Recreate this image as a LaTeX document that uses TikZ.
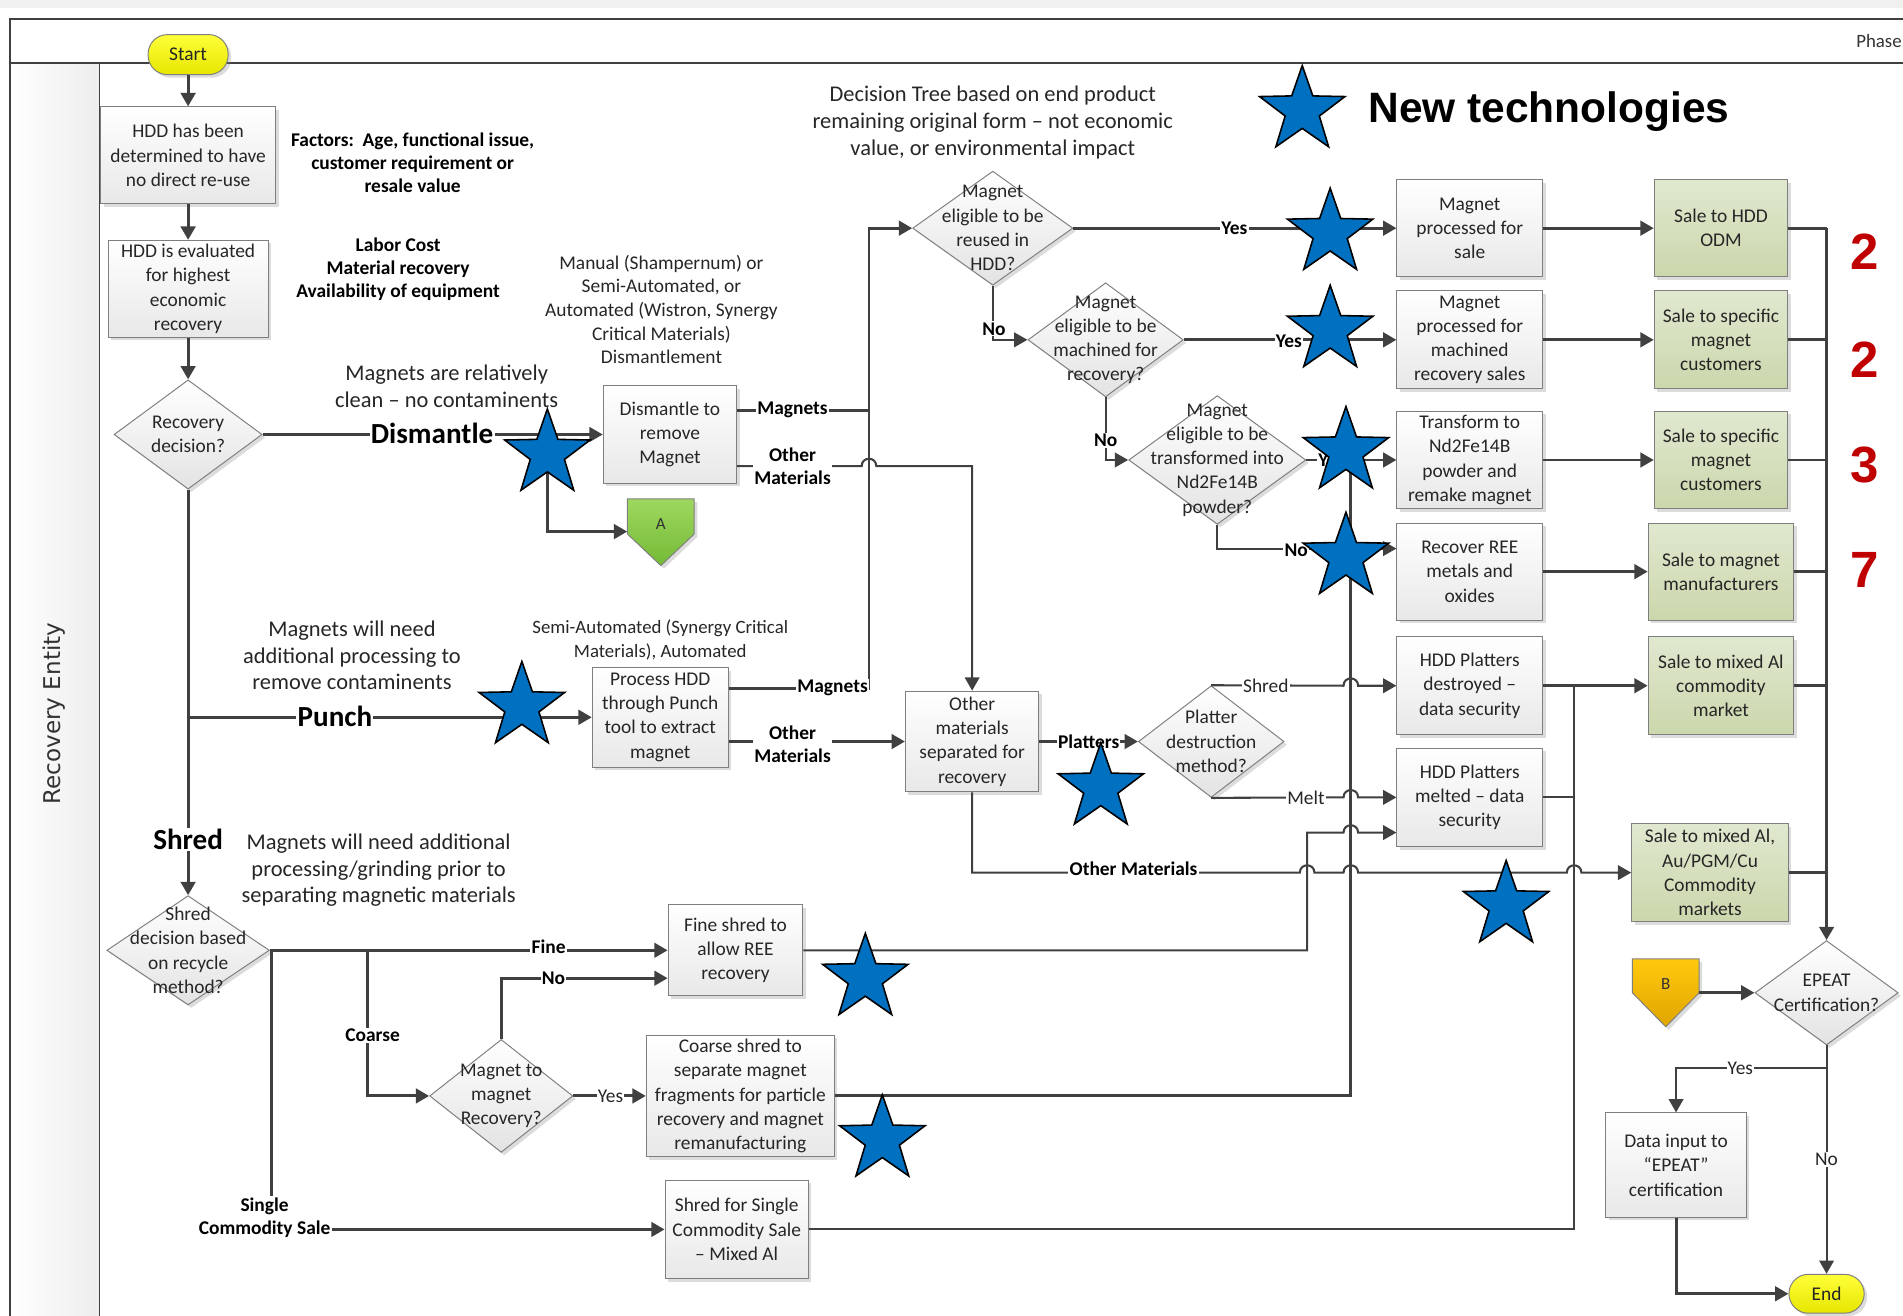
\documentclass[tikz,border=0pt]{standalone}
\usepackage{fontspec}
\setmainfont{Carlito}
\newfontfamily\lanefont{DejaVu Sans}
\newfontfamily\headfont{Liberation Sans}
\usetikzlibrary{arrows.meta,shapes.geometric,shadows,calc}

\definecolor{ink}{HTML}{404040}
\definecolor{edge}{HTML}{7F7F7F}
\definecolor{starblue}{HTML}{0070C0}
\definecolor{numred}{HTML}{C00000}
\definecolor{greentop}{HTML}{E0E8CF}
\definecolor{greenbot}{HTML}{CBD7AC}
\definecolor{yeltop}{HTML}{FFFF3A}
\definecolor{yelbot}{HTML}{E6E600}
\definecolor{atop}{HTML}{9ED85F}
\definecolor{abot}{HTML}{74BA35}
\definecolor{btop}{HTML}{FFC90E}
\definecolor{bbot}{HTML}{E0A500}

\newcommand\bodyfont{\fontsize{16}{20}\selectfont}
\newcommand\notefont{\fontsize{18.5}{22}\selectfont}
\newcommand\labfont{\bfseries\fontsize{16}{19}\selectfont}
\newcommand\plainlab{\fontsize{16}{19}\selectfont}
\newcommand\bigfont{\bfseries\fontsize{24}{28}\selectfont}
% line hop over a vertical line at x=#1 on a horizontal run at y=#2
\newcommand\hopat[2]{-- ({#1-6},#2) .. controls ({#1-6},{#2-8}) and ({#1+6},{#2-8}) .. ({#1+6},#2)}

\begin{document}
\begin{tikzpicture}[x=1pt,y=-1pt,
  shadowed/.style={drop shadow={shadow xshift=2.5pt,shadow yshift=-2.5pt,opacity=.28,fill=black!50}},
  box/.style={rectangle,draw=edge,line width=.8pt,top color=white,bottom color=black!9,
    align=center,inner sep=0pt,font=\bodyfont,text=black!85,shadowed},
  gbox/.style={box,top color=greentop,bottom color=greenbot},
  dec/.style={diamond,draw=edge,line width=.8pt,top color=white,bottom color=black!11,
    inner sep=0pt,shadowed},
  dtext/.style={align=center,font=\bodyfont,text=black!85,inner sep=0pt},
  term/.style={rectangle,rounded corners=16pt,draw=edge,line width=.8pt,top color=yeltop,
    bottom color=yelbot,font=\bodyfont,text=black!85,inner sep=0pt,shadowed},
  wire/.style={draw=ink,line width=2.4pt},
  lite/.style={draw=ink,line width=1.7pt},
  tip/.style={-{Triangle[length=11pt,width=12pt]}},
  lab/.style={fill=white,inner sep=1pt,font=\labfont,text=black,align=center},
  plab/.style={lab,font=\plainlab,text=black!85},
  note/.style={align=center,font=\notefont,text=black!85},
  fact/.style={align=center,font=\labfont,text=black},
  newtech/.style={star,star points=5,star point ratio=2.5,minimum size=74pt,inner sep=0pt,
    fill=starblue,draw=black,line width=1.3pt}
]
\useasboundingbox (0,0) rectangle (1568,1084);

% ---------- swimlane frame ----------
\fill[black!6] (0,0) rectangle (1568,7);
\shade[left color=white,right color=black!7] (8,52) rectangle (82,1084);
\draw[ink,line width=1.6pt] (8,1084) -- (8,16) -- (1568,16);
\draw[ink,line width=1.6pt] (8,52) -- (1568,52);
\draw[ink,line width=1.2pt] (82,52) -- (82,1084);
\node[rotate=90,font=\lanefont\fontsize{19}{22}\selectfont,text=black!80] (lane) at (45,588) {Recovery Entity};
\node[anchor=west,font=\fontsize{15.5}{18}\selectfont,text=black!80] (phase) at (1526,34) {Phase};

% ---------- process nodes ----------
\node[term,minimum width=66pt,minimum height=33pt] (start) at (155,45) {Start};
\node[box,minimum width=144pt,minimum height=80pt] (eol) at (155,128) {HDD has been\\determined to have\\no direct re-use};
\node[box,minimum width=132pt,minimum height=80pt] (eval) at (155,238) {HDD is evaluated\\for highest\\economic\\recovery};
\node[dec,minimum width=122pt,minimum height=90pt] (rd) at (155,358) {};
\node[dtext] (rdt) at (rd) {Recovery\\decision?};

\node[box,minimum width=110pt,minimum height=80pt] (dis) at (552,358) {Dismantle to\\remove\\Magnet};
\node[box,minimum width=112pt,minimum height=82pt] (punch) at (544,591) {Process HDD\\through Punch\\tool to extract\\magnet};
\node[box,minimum width=110pt,minimum height=83pt] (oth) at (801,611) {Other\\materials\\separated for\\recovery};
\node[dec,minimum width=120pt,minimum height=92pt] (pdm) at (998,611) {};
\node[dtext] (pdmt) at (pdm) {Platter\\destruction\\method?};

\node[dec,minimum width=132pt,minimum height=94pt] (d1) at (818,188) {};
\node[dtext] (d1t) at (d1) {Magnet\\eligible to be\\reused in\\HDD?};
\node[dec,minimum width=128pt,minimum height=94pt] (d2) at (911,280) {};
\node[dtext] (d2t) at (d2) {Magnet\\eligible to be\\machined for\\recovery?};
\node[dec,minimum width=146pt,minimum height=106pt] (d3) at (1003,379) {};
\node[dtext] (d3t) at (d3) {Magnet\\eligible to be\\transformed into\\Nd2Fe14B\\powder?};

\node[box,minimum width=120pt,minimum height=80pt] (p1) at (1211,188) {Magnet\\processed for\\sale};
\node[box,minimum width=120pt,minimum height=81pt] (p2) at (1211,280) {Magnet\\processed for\\machined\\recovery sales};
\node[box,minimum width=120pt,minimum height=80pt] (p3) at (1211,379) {Transform to\\Nd2Fe14B\\powder and\\remake magnet};
\node[box,minimum width=120pt,minimum height=80pt] (p4) at (1211,471) {Recover REE\\metals and\\oxides};
\node[box,minimum width=120pt,minimum height=81pt] (pl1) at (1211,565) {HDD Platters\\destroyed –\\data security};
\node[box,minimum width=120pt,minimum height=81pt] (pl2) at (1211,657) {HDD Platters\\melted – data\\security};

\node[gbox,minimum width=110pt,minimum height=80pt] (s1) at (1418,188) {Sale to HDD\\ODM};
\node[gbox,minimum width=110pt,minimum height=81pt] (s2) at (1418,280) {Sale to specific\\magnet\\customers};
\node[gbox,minimum width=110pt,minimum height=80pt] (s3) at (1418,379) {Sale to specific\\magnet\\customers};
\node[gbox,minimum width=120pt,minimum height=80pt] (s4) at (1418,471) {Sale to magnet\\manufacturers};
\node[gbox,minimum width=120pt,minimum height=81pt] (s5) at (1418,565) {Sale to mixed Al\\commodity\\market};
\node[gbox,minimum width=129pt,minimum height=81pt] (s6) at (1409,719) {Sale to mixed Al,\\Au/PGM/Cu\\Commodity\\markets};

\node[dec,minimum width=118pt,minimum height=86pt] (epeat) at (1505,818) {};
\node[dtext] (epeatt) at (epeat) {EPEAT\\Certification?};
\node[box,minimum width=116pt,minimum height=86pt] (data) at (1381,960) {Data input to\\“EPEAT”\\certification};
\node[term,minimum width=62pt,minimum height=32pt] (endn) at (1505,1066) {End};

\node[dec,minimum width=134pt,minimum height=90pt] (sd) at (155,783) {};
\node[dtext] (sdt) at (sd) {Shred\\decision based\\on recycle\\method?};
\node[box,minimum width=111pt,minimum height=75pt] (fine) at (606,783) {Fine shred to\\allow REE\\recovery};
\node[dec,minimum width=118pt,minimum height=93pt] (mm) at (413,903) {};
\node[dtext] (mmt) at (mm) {Magnet to\\magnet\\Recovery?};
\node[box,minimum width=155pt,minimum height=100pt] (coarse) at (610,903) {Coarse shred to\\separate magnet\\fragments for particle\\recovery and magnet\\remanufacturing};
\node[box,minimum width=118pt,minimum height=81pt] (single) at (607,1013) {Shred for Single\\Commodity Sale\\– Mixed Al};

% ---------- off-page connectors ----------
\path[draw=edge,line width=.8pt,top color=atop,bottom color=abot,shadowed]
  (517,411) -- (572,411) -- (572,440) -- (544.5,466) -- (517,440) -- cycle;
\node[font=\fontsize{14}{16}\selectfont,text=black!80,minimum width=55pt,minimum height=29pt,inner sep=0pt] (offA) at (544.5,432) {A};
\path[draw=edge,line width=.8pt,top color=btop,bottom color=bbot,shadowed]
  (1345,790) -- (1400,790) -- (1400,818) -- (1372.5,846) -- (1345,818) -- cycle;
\node[font=\fontsize{14}{16}\selectfont,text=black!80,minimum width=55pt,minimum height=29pt,inner sep=0pt] (offB) at (1372.5,811) {B};

% ---------- connectors ----------
\draw[wire,tip] (start) -- (eol);
\draw[wire,tip] (eol) -- (eval);
\draw[wire,tip] (eval) -- (rd);
\draw[wire,tip] (rd) -- (dis);
\coordinate (dj) at (451,358);
\draw[wire,tip] (dj) |- ($(offA.west)+(0,6)$);
\draw[wire,tip] (rd) -- (sd);
\coordinate (pj) at (155,591);
\draw[wire,tip] (pj) -- (punch);

\draw[wire] ($(dis.east)+(0,-20)$) -- (716,338);
\draw[wire,tip] ($(punch.east)+(0,-24)$) -- (716,567) -- (716,188) -- (d1);
\draw[lite,tip] ($(dis.east)+(0,26)$) \hopat{716}{384} -- (801,384) -- (oth);
\draw[wire,tip] ($(punch.east)+(0,20)$) -- (oth);

\draw[wire,tip] (oth) -- (pdm);
\draw[lite,tip] (pdm.north) \hopat{1113}{565} -- (pl1);
\draw[lite,tip] (pdm.south) \hopat{1113}{657} -- (pl2);
\draw[lite,tip] (fine) -- (1077,783) -- (1077,686) \hopat{1113}{686} -- ($(pl2.west)+(0,29)$);
\draw[lite,tip] (oth) -- (801,719) \hopat{1077}{719} \hopat{1113}{719} \hopat{1297}{719} -- (s6);

\draw[wire,tip] (d1) -- (p1);
\draw[lite,tip] (d1) |- (d2);
\draw[wire,tip] (d2) -- (p2);
\draw[lite,tip] (d2) |- (d3);
\draw[wire,tip] (d3) -- (p3);
\draw[lite,tip] (d3) |- ($(p4.west)+(0,-19)$);
\draw[wire] (coarse) -- (1113,903) -- (1113,379);

\foreach \a/\b in {p1/s1,p2/s2,p3/s3,p4/s4} \draw[wire,tip] (\a) -- (\b);
\draw[wire] (s1) -- (1505,188);
\draw[wire,tip] (1505,188) -- (epeat);
\foreach \s/\y in {s2/280,s3/379,s4/471,s5/565,s6/719} \draw[wire] (\s) -- (1505,\y);
\draw[wire,tip] (pl1) -- (s5);
\draw[lite] (pl2) -- (1297,657);
\draw[lite] (single) -- (1297,1013) -- (1297,565);
\draw[wire,tip] ($(offB.east)+(0,7)$) -- (epeat);
\draw[lite,tip] (epeat) -- (1505,880) -| (data);
\draw[lite,tip] (epeat) -- (endn);
\draw[wire,tip] (data) |- (endn);

\draw[wire,tip] (sd) -- (fine);
\draw[wire,tip] (303,783) |- (mm);
\draw[wire,tip] (224,783) |- (single);
\draw[wire,tip] (mm) |- ($(fine.west)+(0,23)$);
\draw[wire,tip] (mm) -- (coarse);

% ---------- connector labels ----------
\node[lab,font=\bigfont] (ldis) at (356,357) {Dismantle};
\node[lab,font=\bigfont] (lpun) at (276,590) {Punch};
\node[lab,font=\bigfont] (lshr) at (155,692) {Shred};
\node[lab] (lmag1) at (653,338) {Magnets};
\node[lab] (loth1) at (653,384) {Other\\Materials};
\node[lab] (lmag2) at (686,567) {Magnets};
\node[lab] (loth2) at (653,613) {Other\\Materials};
\node[lab] (lplat) at (897,611) {Platters};
\node[plab] (lsh) at (1043,565) {Shred};
\node[plab] (lmelt) at (1076,657) {Melt};
\node[lab] (lothm) at (934,716) {Other Materials};
\node[lab] (ly1) at (1017,188) {Yes};
\node[lab] (ln1) at (819,271) {No};
\node[lab] (ly2) at (1062,281) {Yes};
\node[lab] (ln2) at (911,363) {No};
\node[lab] (ly3) at (1097,379) {Yes};
\node[lab] (ln3) at (1068,453) {No};
\node[lab] (lfine) at (452,780) {Fine};
\node[lab] (lno4) at (456,806) {No};
\node[lab] (lcoarse) at (307,853) {Coarse};
\node[plab] (lyes4) at (503,903) {Yes};
\node[lab] (lsingle) at (218,1003) {Single\\Commodity Sale};
\node[plab] (lyes5) at (1434,880) {Yes};
\node[plab] (lno5) at (1505,955) {No};

% ---------- notes ----------
\node[fact] (factors) at (340,134) {Factors:\ \ Age, functional issue,\\customer requirement or\\resale value};
\node[fact] (labor) at (328,222) {Labor Cost\\Material recovery\\Availability of equipment};
\node[align=center,font=\fontsize{16}{19.5}\selectfont,text=black!85] (manual) at (545,255) {Manual (Shampernum) or\\Semi-Automated, or\\Automated (Wistron, Synergy\\Critical Materials)\\Dismantlement};
\node[note] (clean) at (368,318) {Magnets are relatively\\clean – no contaminents};
\node[note] (dtree) at (818,101) {Decision Tree based on end product\\remaining original form – not economic\\value, or environmental impact};
\node[note] (pnote) at (290,540) {Magnets will need\\additional processing to\\remove contaminents};
\node[note] (snote) at (312,717) {Magnets will need additional\\processing/grinding prior to\\separating magnetic materials};
\node[align=center,font=\fontsize{15.5}{20}\selectfont,text=black!85] (semi) at (544,527) {Semi-Automated (Synergy Critical\\Materials), Automated};

% ---------- new technology markers ----------
\foreach \x/\y [count=\i] in {451/374,1096/192,1096/272,1109/372,1109/459,430/582,907/649,1241/746,713/806,727/939}
  \node[newtech] (st\i) at (\x,\y) {};
\node[newtech] (stlegend) at (1073,91) {};
\node[anchor=west,font=\headfont\bfseries\fontsize{35}{40}\selectfont] (ntech) at (1124,92) {New technologies};

% ---------- counts ----------
\foreach \y/\n [count=\i] in {207/2,296/2,383/3,470/7}
  \node[font=\headfont\bfseries\fontsize{42}{44}\selectfont,text=numred] (num\i) at (1536,\y) {\n};
\end{tikzpicture}
\end{document}
